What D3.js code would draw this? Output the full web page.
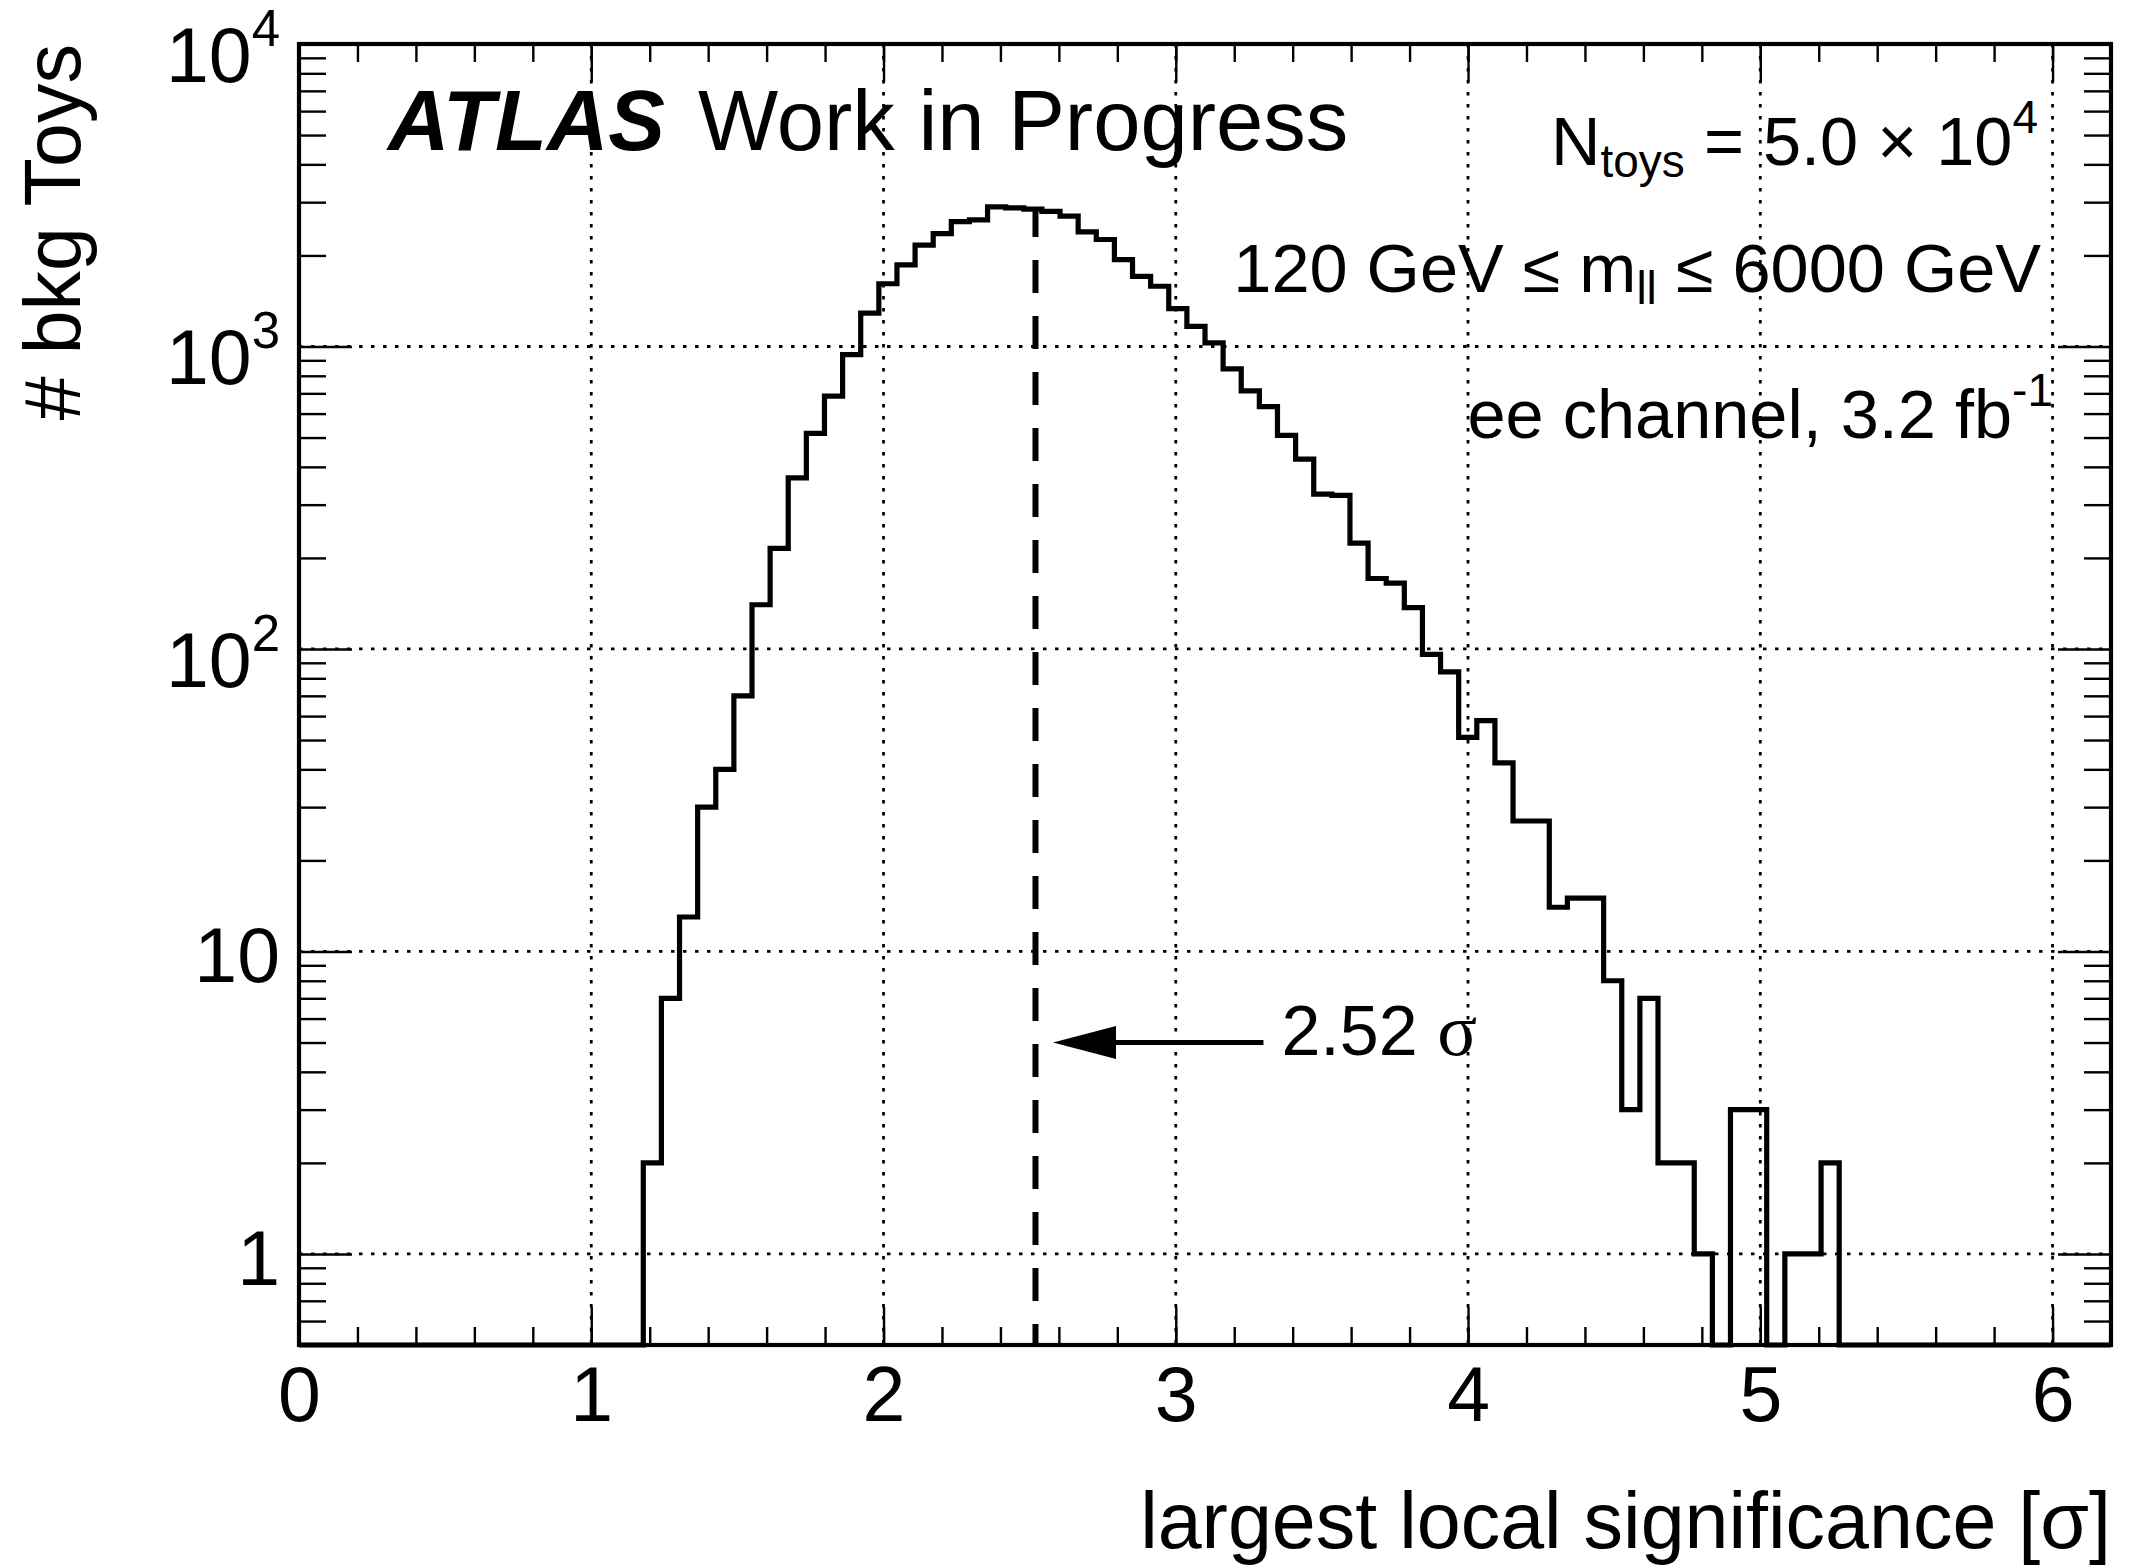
<!DOCTYPE html>
<html>
<head>
<meta charset="utf-8">
<title>largest local significance, bkg toys</title>
<script src="https://d3js.org/d3.v7.min.js"></script>
<style>
  body { margin: 0; background: #fff; }
  svg { display: block; font-family: "Liberation Sans", Arial, Helvetica, sans-serif; }
  .grid line { stroke: #000; stroke-width: 2.8; stroke-dasharray: 3.5 8.5; }
  .tick line { stroke: #000; stroke-width: 2.4; }
</style>
</head>
<body>
<svg id="chart" width="2129" height="1566"></svg>
<script>
// binning of the toy histogram
const xMin = 0, xMax = 6.2, nBins = 100;

// entries per bin (bins 0..99)
const counts = [
  0, 0, 0, 0, 0, 0, 0, 0, 0, 0,
  0, 0, 0, 0, 0, 0, 0, 0, 0, 2,
  7, 13, 30, 40, 70, 140, 215, 368, 516, 685,
  940, 1290, 1612, 1860, 2162, 2362, 2585, 2620, 2893, 2873,
  2845, 2795, 2696, 2393, 2258, 1937, 1705, 1582, 1335, 1166,
  1028, 843, 713, 633, 508, 424, 325, 322, 224, 171,
  165, 137, 96, 84, 51, 58, 42, 27, 27, 14,
  15, 15, 8, 3, 7, 2, 2, 1, 0, 3,
  3, 0, 1, 1, 2, 0, 0, 0, 0, 0,
  0, 0, 0, 0, 0, 0, 0, 0, 0, 0
];

const xMajor = [0, 1, 2, 3, 4, 5, 6];
const xGrid = [1, 2, 3, 4, 5, 6];
const yMajor = [1, 10, 100, 1000, 10000];
const yLabelBase = ['1', '10', '10', '10', '10'];
const yLabelExp = ['', '', '2', '3', '4'];
const yGrid = [1, 10, 100, 1000];
const yRange = [0.5, 1e4];

const observed = 2.52;          // dashed line
const arrowFrom = 3.30, arrowTo = 2.58, arrowLevel = 5;
const arrowText = '2.52 ';

const pLeft = 299, pRight = 2111, pTop = 44, pBottom = 1345;

const svg = d3.select('#chart');
const x = d3.scaleLinear().domain([xMin, xMax]).range([pLeft, pRight]);
const y = d3.scaleLog().domain(yRange).range([pBottom, pTop]);

// grid
const grid = svg.append('g').attr('class', 'grid');
grid.selectAll('line.v').data(xGrid).join('line').attr('class', 'v')
  .attr('x1', d => x(d)).attr('x2', d => x(d)).attr('y1', pTop).attr('y2', pBottom);
grid.selectAll('line.h').data(yGrid).join('line').attr('class', 'h')
  .attr('y1', d => y(d)).attr('y2', d => y(d)).attr('x1', pLeft).attr('x2', pRight);

// ticks
const xMinor = d3.range(0, 32).map(i => i / 5).filter(v => v <= xMax);
const yMinor = [];
[0.1, 1, 10, 100, 1000].forEach(dec => {
  for (let m = 2; m <= 9; m++) {
    const v = dec * m;
    if (v >= yRange[0] && v <= yRange[1]) yMinor.push(v);
  }
});

function axis(gen, tr) {
  const g = svg.append('g').attr('transform', tr).call(gen);
  g.select('.domain').remove();
  g.attr('font-family', null).attr('font-size', 77);
  return g;
}

axis(d3.axisBottom(x).tickValues(xMinor).tickSize(-18).tickFormat(''), `translate(0,${pBottom})`);
axis(d3.axisBottom(x).tickValues(xMajor).tickSize(-38).tickPadding(21).tickFormat(d3.format('d')), `translate(0,${pBottom})`);
axis(d3.axisTop(x).tickValues(xMinor).tickSize(-18).tickFormat(''), `translate(0,${pTop})`);
axis(d3.axisTop(x).tickValues(xMajor).tickSize(-38).tickFormat(''), `translate(0,${pTop})`);

axis(d3.axisLeft(y).tickValues(yMinor).tickSize(-27).tickFormat(''), `translate(${pLeft},0)`);
axis(d3.axisLeft(y).tickValues(yMajor).tickSize(-53).tickFormat(''), `translate(${pLeft},0)`);
axis(d3.axisRight(y).tickValues(yMinor).tickSize(-27).tickFormat(''), `translate(${pRight},0)`);
axis(d3.axisRight(y).tickValues(yMajor).tickSize(-53).tickFormat(''), `translate(${pRight},0)`);

// y labels with exponents
const yl = svg.append('g').attr('font-size', 77).attr('text-anchor', 'end');
yMajor.forEach((v, i) => {
  const t = yl.append('text').attr('x', 280).attr('y', y(v) + (yLabelExp[i] ? 38 : 31));
  t.append('tspan').text(yLabelBase[i]);
  if (yLabelExp[i]) t.append('tspan').attr('font-size', 51).attr('dy', -36).text(yLabelExp[i]);
});

// histogram outline
const edges = d3.range(nBins + 1).map(i => xMin + i * (xMax - xMin) / nBins);
const pts = counts.map((c, i) => [edges[i], c]).concat([[xMax, counts[nBins - 1]]]);
const histLine = d3.line()
  .x(d => x(d[0]))
  .y(d => y(Math.max(d[1], yRange[0])))
  .curve(d3.curveStepAfter);
svg.append('path').datum(pts)
  .attr('d', histLine)
  .attr('fill', 'none').attr('stroke', '#000').attr('stroke-width', 5.2)
  .attr('stroke-linejoin', 'miter');

// observed significance
svg.append('line')
  .attr('x1', x(observed)).attr('x2', x(observed))
  .attr('y1', pBottom).attr('y2', y(d3.max(counts)))
  .attr('stroke', '#000').attr('stroke-width', 6)
  .attr('stroke-dasharray', '33 23').attr('stroke-dashoffset', 12);

// arrow + label
const ay = y(arrowLevel), tip = x(arrowTo), headLen = 63, headHalf = 16.5;
svg.append('line')
  .attr('x1', x(arrowFrom)).attr('x2', tip + headLen - 2)
  .attr('y1', ay).attr('y2', ay)
  .attr('stroke', '#000').attr('stroke-width', 5);
svg.append('path')
  .attr('d', `M${tip},${ay}L${tip + headLen},${ay - headHalf}L${tip + headLen},${ay + headHalf}Z`)
  .attr('fill', '#000');
const at = svg.append('text').attr('x', x(arrowFrom) + 18).attr('y', ay + 12).attr('font-size', 70);
at.append('tspan').text(arrowText);
at.append('tspan').attr('font-family', '"Liberation Serif", "Times New Roman", serif').attr('font-size', 74).text('σ');

// frame
svg.append('rect')
  .attr('x', pLeft).attr('y', pTop).attr('width', pRight - pLeft).attr('height', pBottom - pTop)
  .attr('fill', 'none').attr('stroke', '#000').attr('stroke-width', 4.2);

// ATLAS label
svg.append('text').attr('x', 388).attr('y', 150).attr('font-size', 85)
  .attr('font-weight', 'bold').attr('font-style', 'italic').text('ATLAS');
svg.append('text').attr('x', 698).attr('y', 150).attr('font-size', 85).text('Work in Progress');

// info block
const info = svg.append('g').attr('text-anchor', 'end').attr('font-size', 68.5);
const l1 = info.append('text').attr('x', 2038).attr('y', 165);
l1.append('tspan').text('N');
l1.append('tspan').attr('font-size', 46).attr('dy', 12).text('toys');
l1.append('tspan').attr('dy', -12).text(' = 5.0 × 10');
l1.append('tspan').attr('font-size', 46).attr('dy', -32).text('4');

const l2 = info.append('text').attr('x', 2041).attr('y', 292);
l2.append('tspan').text('120 GeV ≤ m');
l2.append('tspan').attr('font-size', 46).attr('dy', 12).text('ll');
l2.append('tspan').attr('dy', -12).text(' ≤ 6000 GeV');

const l3 = info.append('text').attr('x', 2053).attr('y', 438);
l3.append('tspan').text('ee channel, 3.2 fb');
l3.append('tspan').attr('font-size', 46).attr('dy', -32).text('-1');

// axis titles
svg.append('text').attr('x', pRight).attr('y', 1548).attr('font-size', 79)
  .attr('text-anchor', 'end').text('largest local significance [σ]');
svg.append('text').attr('transform', `translate(80,${pTop}) rotate(-90)`)
  .attr('font-size', 79).attr('text-anchor', 'end').text('# bkg Toys');
</script>
</body>
</html>
